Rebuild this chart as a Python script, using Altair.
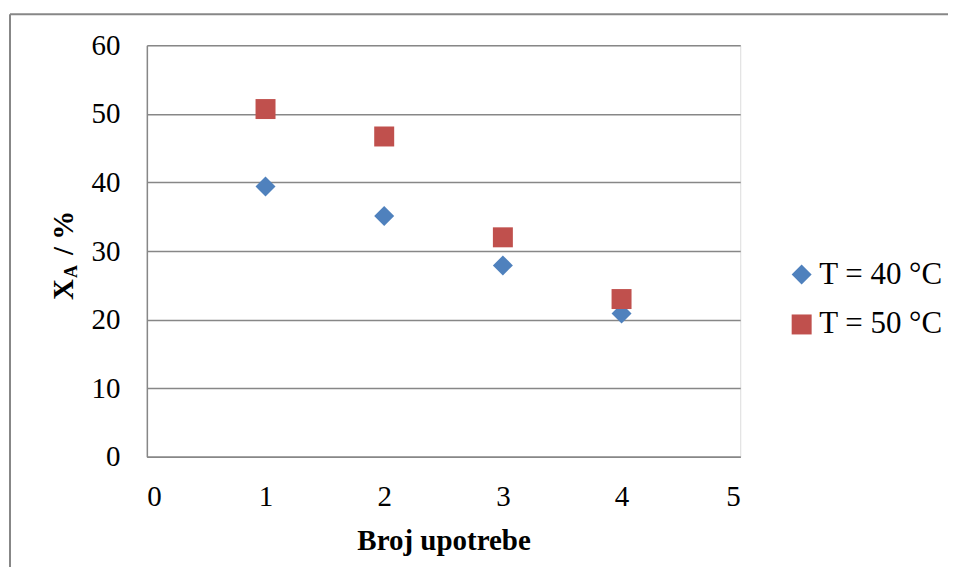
import altair as alt
import pandas as pd

uses = [1, 2, 3, 4]
series_names = ["T = 40 °C", "T = 50 °C"]
x40 = [39.4, 35.1, 27.9, 20.9]
x50 = [50.7, 46.7, 32.0, 23.0]
x_ticks = [0, 1, 2, 3, 4, 5]
y_ticks = [0, 10, 20, 30, 40, 50, 60]
colors = ["#4F81BD", "#C0504D"]
shapes = ["diamond", "square"]

rows = []
for u, v in zip(uses, x40):
    rows.append({"use": u, "xa": v, "series": series_names[0]})
for u, v in zip(uses, x50):
    rows.append({"use": u, "xa": v, "series": series_names[1]})
df = pd.DataFrame(rows)

FONT = "Times New Roman"
GRID = "#878787"

points = alt.Chart(df).mark_point(filled=True, size=400, opacity=1).encode(
    x=alt.X("use:Q", scale=alt.Scale(domain=[0, 5], nice=False),
            axis=alt.Axis(values=x_ticks, title="Broj upotrebe", grid=False, ticks=False,
                          domainColor=GRID, domainWidth=1.5, labelFontSize=29,
                          labelPadding=26, labelColor="black", titleFontSize=29,
                          titleFontWeight="bold", titlePadding=15, titleColor="black",
                          labelFont=FONT, titleFont=FONT)),
    y=alt.Y("xa:Q", scale=alt.Scale(domain=[0, 60], nice=False),
            axis=alt.Axis(values=y_ticks, title=None, grid=True, gridColor=GRID,
                          gridWidth=1.5, ticks=False, domainColor=GRID, domainWidth=1.5,
                          labelFontSize=29, labelPadding=27, labelColor="black",
                          labelFont=FONT)),
    color=alt.Color("series:N", scale=alt.Scale(domain=series_names, range=colors),
                    legend=alt.Legend(title=None, orient="none", legendX=640, legendY=214,
                                      labelFontSize=31, labelFont=FONT, labelColor="black",
                                      symbolSize=400, symbolStrokeWidth=0, labelOffset=2,
                                      rowPadding=18, symbolOpacity=1, labelLimit=300)),
    shape=alt.Shape("series:N", scale=alt.Scale(domain=series_names, range=shapes),
                    legend=None),
)

one = pd.DataFrame({"k": [0]})
title_x = alt.Chart(one).mark_text(text="X", font=FONT, fontSize=29, fontWeight="bold",
                                   angle=270, align="left", baseline="alphabetic",
                                   color="black").encode(x=alt.value(-74), y=alt.value(255))
title_a = alt.Chart(one).mark_text(text="A", font=FONT, fontSize=18, fontWeight="bold",
                                   angle=270, align="left", baseline="alphabetic",
                                   color="black").encode(x=alt.value(-70), y=alt.value(233))
title_rest = alt.Chart(one).mark_text(text="/ %", font=FONT, fontSize=29, fontWeight="bold",
                                      angle=270, align="left", baseline="alphabetic",
                                      color="black").encode(x=alt.value(-74), y=alt.value(210))

frame_top = alt.Chart(one).mark_rule(color=GRID, strokeWidth=2).encode(
    x=alt.value(-137), x2=alt.value(820), y=alt.value(-31))
frame_left = alt.Chart(one).mark_rule(color=GRID, strokeWidth=2).encode(
    x=alt.value(-137), y=alt.value(-31), y2=alt.value(540))

chart = alt.layer(frame_top, frame_left, points, title_x, title_a, title_rest).properties(
    width=594, height=412,
    autosize=alt.AutoSizeParams(type="none"),
    padding={"left": 139, "top": 37, "right": 208, "bottom": 110},
).configure_view(stroke=None).configure(background="white")

chart.save("out.html", embed_options={"renderer": "svg", "actions": False})
